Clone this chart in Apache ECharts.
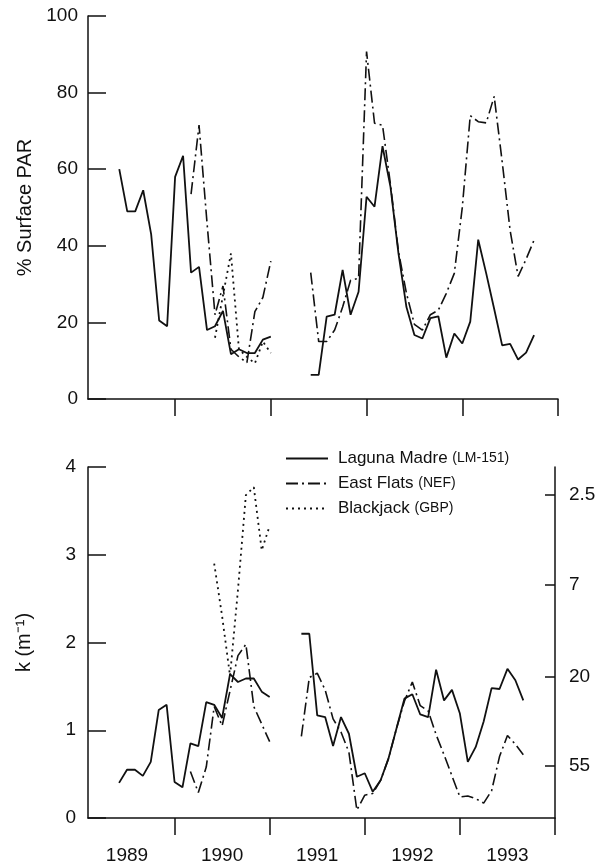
<!DOCTYPE html>
<html>
<head>
<meta charset="utf-8">
<script src="https://cdn.jsdelivr.net/npm/echarts@6/dist/echarts.min.js"></script>
<style>
  html, body { margin: 0; padding: 0; background: #fff; }
  #chart { width: 610px; height: 868px; }
</style>
</head>
<body>
<div id="chart"></div>
<script>
// months of the samples (first stretch 1989-91, second stretch 1991-93)
const monthsA = ['1989-06', '1989-07', '1989-08', '1989-09', '1989-10', '1989-11', '1989-12',
  '1990-01', '1990-02', '1990-03', '1990-04', '1990-05', '1990-06', '1990-07', '1990-08',
  '1990-09', '1990-10', '1990-11', '1990-12', '1991-01'];
const monthsTopB = ['1991-06', '1991-07', '1991-08', '1991-09', '1991-10', '1991-11', '1991-12',
  '1992-01', '1992-02', '1992-03', '1992-04', '1992-05', '1992-06', '1992-07', '1992-08',
  '1992-09', '1992-10', '1992-11', '1992-12', '1993-01', '1993-02', '1993-03', '1993-04',
  '1993-05', '1993-06', '1993-07', '1993-08', '1993-09', '1993-10'];
const monthsBottomB = ['1991-05', '1991-06', '1991-07', '1991-08', '1991-09', '1991-10', '1991-11',
  '1991-12', '1992-01', '1992-02', '1992-03', '1992-04', '1992-05', '1992-06', '1992-07',
  '1992-08', '1992-09', '1992-10', '1992-11', '1992-12', '1993-01', '1993-02', '1993-03',
  '1993-04', '1993-05', '1993-06', '1993-07', '1993-08', '1993-09'];
const monthsEF = monthsA.slice(9);   // from 1990-03
const monthsBJ = monthsA.slice(12);  // from 1990-06

// % surface PAR (top panel)
const lmParA = [60, 49, 49, 54.5, 43, 20.5, 19, 58, 63.5, 33, 34.5, 18, 19, 23, 11.7, 13, 12, 12, 15.5, 16.3];
const lmParB = [6.3, 6.3, 21.5, 22, 33.7, 22, 28, 52.8, 50.2, 66, 55.4, 38, 24, 16.7, 15.8,
  21.1, 21.6, 10.8, 17.1, 14.5, 20.2, 41.6, 32.8, 23.5, 14, 14.4, 10.3, 12.1, 16.7];
const efParA = [53.5, 71.5, 46, 22, 29.5, 13, 11, 9.5, 22.8, 26.5, 36];
const efParB = [33, 15, 15, 18, 24, 31, 31.5, 90.7, 72, 71.5, 56, 38.5, 27.6, 19.5, 18,
  22, 23.2, 27.6, 32.8, 50, 74, 72.4, 72.1, 79, 62, 44, 32, 36.5, 41.5];
const bjPar = [16, 27, 38, 13, 11, 9.3, 15, 12];

// attenuation k (m-1) (bottom panel)
const lmKA = [0.40, 0.55, 0.55, 0.48, 0.64, 1.23, 1.29, 0.41, 0.35, 0.85, 0.82, 1.32, 1.29,
  1.14, 1.64, 1.55, 1.59, 1.59, 1.44, 1.38];
const lmKB = [2.10, 2.10, 1.17, 1.15, 0.82, 1.15, 0.96, 0.47, 0.51, 0.30, 0.43, 0.68, 1.02,
  1.36, 1.41, 1.18, 1.15, 1.69, 1.34, 1.46, 1.19, 0.64, 0.81, 1.10, 1.48, 1.47, 1.70, 1.57, 1.34];
const efKA = [0.53, 0.29, 0.58, 1.27, 1.05, 1.45, 1.85, 1.98, 1.27, 1.07, 0.87];
const efKB = [0.93, 1.60, 1.65, 1.46, 1.13, 0.98, 0.75, 0.09, 0.26, 0.28, 0.43, 0.68, 1.02,
  1.33, 1.55, 1.28, 1.22, 0.95, 0.72, 0.48, 0.24, 0.25, 0.22, 0.17, 0.31, 0.70, 0.94, 0.84, 0.72];
const bjK = [2.9, 2.3, 1.62, 2.6, 3.68, 3.77, 3.05, 3.33];

// labels
const stations = ['Laguna Madre', 'East Flats', 'Blackjack'];
const stationCodes = ['LM-151', 'NEF', 'GBP'];
const yearTicks = [1990, 1991, 1992, 1993, 1994];
const yearLabels = ['1989', '1990', '1991', '1992', '1993'];
const rightLabels = [2.5, 7, 20, 55];   // % surface PAR at 1 m

const FONT = "'Liberation Sans', Arial, Helvetica, sans-serif";
const INK = '#111';

function toYear(m) {
  const p = m.split('-');
  return Number(p[0]) + (Number(p[1]) - 1) / 12;
}
function pts(months, vals) {
  return vals.map((v, i) => [toYear(months[i]), v]);
}
function joined(a, b) {
  const gap = (a[a.length - 1][0] + b[0][0]) / 2;
  return a.concat([[gap, '-']], b);
}

const lineTypes = ['solid', [12, 4, 2, 4], [2, 4]];
const lineWidths = [1.8, 1.6, 1.8];

// right-axis positions: k = ln(100 / p)
const rightK = rightLabels.map(p => Math.log(100 / p));
const labelYears = yearLabels.map(y => Number(y) + 0.5);

const chart = echarts.init(document.getElementById('chart'), null, { renderer: 'canvas' });

function mk(name, idx, data, axis) {
  return {
    name: name,
    type: 'line',
    xAxisIndex: axis,
    yAxisIndex: axis,
    data: data,
    symbol: 'none',
    connectNulls: false,
    animation: false,
    lineStyle: { color: INK, width: lineWidths[idx], type: lineTypes[idx] },
    itemStyle: { color: INK }
  };
}

const axisLine = { show: true, lineStyle: { color: INK, width: 1.5 } };
const tickLabel = { color: INK, fontSize: 19, fontFamily: FONT };

const option = {
  backgroundColor: '#fff',
  animation: false,
  grid: [
    { left: 88, right: 52, top: 16, height: 383 },
    { left: 88, right: 55, top: 467, height: 351 }
  ],
  legend: {
    data: stations,
    orient: 'vertical',
    left: 280,
    top: 445,
    padding: 5,
    itemWidth: 42,
    itemHeight: 14,
    itemGap: 8,
    selectedMode: false,
    itemStyle: { color: 'rgba(0,0,0,0)', borderWidth: 0, opacity: 0 },
    textStyle: {
      color: INK, fontSize: 17, fontFamily: FONT, padding: [0, 0, 0, 5],
      rich: { s: { fontSize: 14, fontFamily: FONT, color: INK } }
    },
    formatter: name => name + ' {s|(' + stationCodes[stations.indexOf(name)] + ')}'
  },
  xAxis: [
    {
      gridIndex: 0, type: 'value', min: 1989.09, max: 1994,
      axisLine: axisLine,
      axisTick: { show: true, customValues: yearTicks, length: 17, lineStyle: { color: INK, width: 1.5 } },
      axisLabel: { show: false },
      splitLine: { show: false }
    },
    {
      gridIndex: 1, type: 'value', min: 1989.09, max: 1994,
      axisLine: axisLine,
      axisTick: { show: true, customValues: yearTicks, length: 17, lineStyle: { color: INK, width: 1.5 } },
      axisLabel: Object.assign({
        customValues: labelYears,
        margin: 28,
        formatter: v => yearLabels[Math.round(v - 0.5) - 1989]
      }, tickLabel),
      splitLine: { show: false }
    }
  ],
  yAxis: [
    {
      gridIndex: 0, type: 'value', min: 0, max: 100, interval: 20,
      name: '% Surface PAR', nameLocation: 'middle', nameGap: 52,
      nameTextStyle: { color: INK, fontSize: 20, fontFamily: FONT },
      axisLine: axisLine,
      axisTick: { show: true, inside: true, length: 18, lineStyle: { color: INK, width: 1.5 } },
      axisLabel: Object.assign({ margin: 10 }, tickLabel),
      splitLine: { show: false }
    },
    {
      gridIndex: 1, type: 'value', min: 0, max: 4, interval: 1,
      name: 'k (m\u207B\u00B9)', nameLocation: 'middle', nameGap: 54,
      nameTextStyle: { color: INK, fontSize: 20, fontFamily: FONT },
      axisLine: axisLine,
      axisTick: { show: true, inside: true, length: 18, lineStyle: { color: INK, width: 1.5 } },
      axisLabel: Object.assign({ margin: 12 }, tickLabel),
      splitLine: { show: false }
    },
    {
      gridIndex: 1, type: 'value', min: 0, max: 4, position: 'right',
      axisLine: axisLine,
      axisTick: { show: true, inside: true, length: 10, customValues: rightK, lineStyle: { color: INK, width: 1.5 } },
      axisLabel: Object.assign({
        customValues: rightK,
        margin: 14,
        formatter: v => {
          let best = 0;
          rightK.forEach((k, i) => { if (Math.abs(k - v) < Math.abs(rightK[best] - v)) best = i; });
          return String(rightLabels[best]);
        }
      }, tickLabel),
      splitLine: { show: false }
    }
  ],
  series: [
    mk(stations[0], 0, joined(pts(monthsA, lmParA), pts(monthsTopB, lmParB)), 0),
    mk(stations[1], 1, joined(pts(monthsEF, efParA), pts(monthsTopB, efParB)), 0),
    mk(stations[2], 2, pts(monthsBJ, bjPar), 0),
    mk(stations[0], 0, joined(pts(monthsA, lmKA), pts(monthsBottomB, lmKB)), 1),
    mk(stations[1], 1, joined(pts(monthsEF, efKA), pts(monthsBottomB, efKB)), 1),
    mk(stations[2], 2, pts(monthsBJ, bjK), 1)
  ]
};

chart.setOption(option);
</script>
</body>
</html>
